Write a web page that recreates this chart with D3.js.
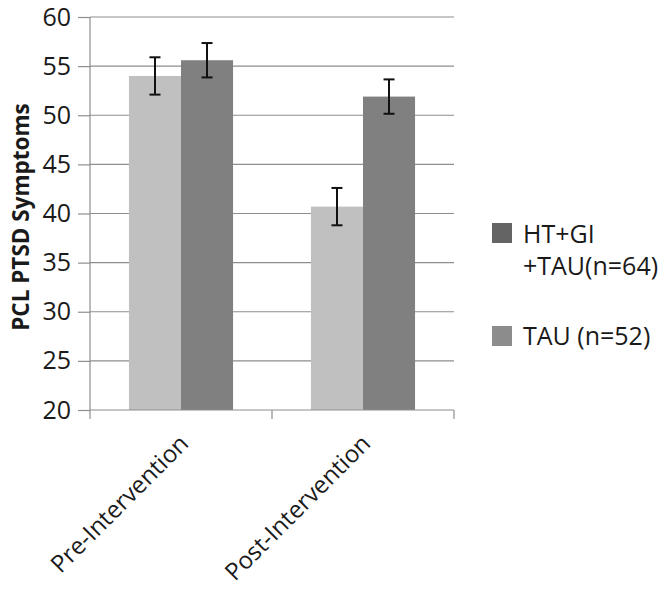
<!DOCTYPE html>
<html>
<head>
<meta charset="utf-8">
<script src="https://cdn.jsdelivr.net/npm/d3@7"></script>
<style>
  body { margin: 0; background: #fff; }
  svg text { font-family: "Open Sans", sans-serif; fill: #1a1a1a; }
</style>
</head>
<body>
<script>
// chart values
var categories = ["Pre-Intervention", "Post-Intervention"];
var seriesNames = ["TAU (n=52)", "HT+GI +TAU(n=64)"];
var tauMeans = [54.0, 40.7];
var tauErrors = [1.9, 1.9];
var htMeans = [55.6, 51.9];
var htErrors = [1.75, 1.75];
var yTicks = [20, 25, 30, 35, 40, 45, 50, 55, 60];

var width = 671,
	height = 590;

var svg = d3.select("body").append("svg")
	.attr("width", width)
	.attr("height", height);

var plot = {left: 90, right: 454, top: 17, bottom: 410};

var x = d3.scaleBand()
	.domain(categories)
	.range([plot.left, plot.right])
	.padding(0);

var bw = x.bandwidth();
var xSeries = d3.scaleBand()
	.domain(seriesNames)
	.range([bw * 0.214, bw * 0.786])
	.padding(0);

var y = d3.scaleLinear()
	.domain([20, 60])
	.range([plot.bottom, plot.top]);

var colors = {bar: ["#c0c0c0", "#808080"], swatch: ["#8c8c8c", "#646464"]};

// gridlines
svg.append("g")
	.selectAll("line")
	.data(yTicks.slice(1))
	.enter()
	.append("line")
	.attr("x1", plot.left)
	.attr("x2", plot.right)
	.attr("y1", function(d) { return y(d); })
	.attr("y2", function(d) { return y(d); })
	.attr("stroke", "#8e8e8e")
	.attr("stroke-width", 1.2);

// bars
var rows = [];
categories.forEach(function(c, i) {
	rows.push({cat: c, s: 0, v: tauMeans[i], e: tauErrors[i]});
	rows.push({cat: c, s: 1, v: htMeans[i], e: htErrors[i]});
});

svg.append("g")
	.selectAll("rect")
	.data(rows)
	.enter()
	.append("rect")
	.attr("x", function(d) { return x(d.cat) + xSeries(seriesNames[d.s]); })
	.attr("width", xSeries.bandwidth())
	.attr("y", function(d) { return y(d.v); })
	.attr("height", function(d) { return y(20) - y(d.v); })
	.attr("fill", function(d) { return colors.bar[d.s]; });

// error bars
var err = svg.append("g")
	.selectAll("g")
	.data(rows)
	.enter()
	.append("g")
	.attr("stroke", "#111")
	.attr("stroke-width", 2);

var cx = function(d) { return x(d.cat) + xSeries(seriesNames[d.s]) + xSeries.bandwidth() / 2; };

err.append("line")
	.attr("x1", cx).attr("x2", cx)
	.attr("y1", function(d) { return y(d.v + d.e); })
	.attr("y2", function(d) { return y(d.v - d.e); });
err.append("line")
	.attr("x1", function(d) { return cx(d) - 5.5; })
	.attr("x2", function(d) { return cx(d) + 5.5; })
	.attr("y1", function(d) { return y(d.v + d.e); })
	.attr("y2", function(d) { return y(d.v + d.e); });
err.append("line")
	.attr("x1", function(d) { return cx(d) - 5.5; })
	.attr("x2", function(d) { return cx(d) + 5.5; })
	.attr("y1", function(d) { return y(d.v - d.e); })
	.attr("y2", function(d) { return y(d.v - d.e); });

// y axis
var yAxis = d3.axisLeft(y).tickValues(yTicks).tickSize(12).tickPadding(7);
var gy = svg.append("g")
	.attr("transform", "translate(" + plot.left + ",0)")
	.call(yAxis);
gy.selectAll("line, path").attr("stroke", "#8e8e8e").attr("stroke-width", 1.2);
gy.select("path").attr("d", "M0," + plot.top + "V" + plot.bottom);
gy.selectAll("text")
	.style("font-size", "25px")
	.attr("fill", "#1a1a1a");

// x axis
var gx = svg.append("g")
	.attr("transform", "translate(0," + plot.bottom + ")");
gx.append("line")
	.attr("x1", plot.left).attr("x2", plot.right)
	.attr("stroke", "#8e8e8e").attr("stroke-width", 1.2);
gx.selectAll("line.tick")
	.data([plot.left, plot.left + bw, plot.right])
	.enter()
	.append("line")
	.attr("class", "tick")
	.attr("x1", function(d) { return d; })
	.attr("x2", function(d) { return d; })
	.attr("y1", 0).attr("y2", 9)
	.attr("stroke", "#8e8e8e").attr("stroke-width", 1.2);
gx.selectAll("text")
	.data(categories)
	.enter()
	.append("text")
	.attr("text-anchor", "end")
	.attr("transform", function(d) {
		return "translate(" + (x(d) + bw / 2 + 9) + ",35) rotate(-45)";
	})
	.style("font-size", "24px")
	.text(function(d) { return d; });

// y label
svg.append("text")
	.attr("text-anchor", "middle")
	.attr("transform", "translate(29," + 217 + ") rotate(-90)")
	.style("font-size", "22.5px")
	.style("font-weight", "bold")
	.text("PCL PTSD Symptoms");

// legend
var legend = svg.append("g");
legend.append("rect")
	.attr("x", 492).attr("y", 223).attr("width", 20).attr("height", 20)
	.attr("fill", colors.swatch[1]);
legend.append("text")
	.attr("x", 523).attr("y", 243)
	.style("font-size", "25px")
	.text("HT+GI");
legend.append("text")
	.attr("x", 523).attr("y", 275)
	.style("font-size", "25px")
	.text("+TAU(n=64)");
legend.append("rect")
	.attr("x", 492).attr("y", 326).attr("width", 20).attr("height", 20)
	.attr("fill", colors.swatch[0]);
legend.append("text")
	.attr("x", 523).attr("y", 345)
	.style("font-size", "25px")
	.text(seriesNames[0]);
</script>
</body>
</html>
